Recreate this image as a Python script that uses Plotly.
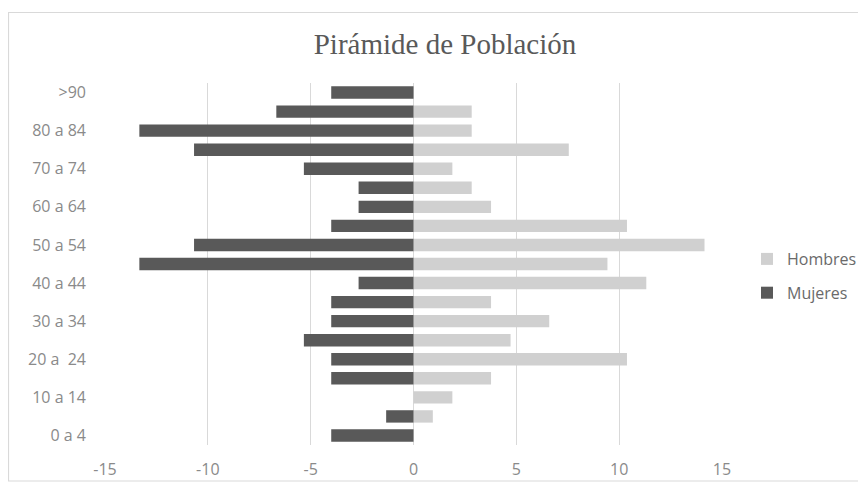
import plotly.graph_objects as go

categories = ["0 a 4", "5 a 9", "10 a 14", "15 a 19", "20 a  24", "25 a 29", "30 a 34",
              "35 a 39", "40 a 44", "45 a 49", "50 a 54", "55 a 59", "60 a 64", "65 a 69",
              "70 a 74", "75 a 79", "80 a 84", "85 a 89", ">90"]
hombres = [0, 0.94, 1.89, 3.77, 10.38, 4.72, 6.60, 3.77, 11.32, 9.43, 14.15, 10.38,
           3.77, 2.83, 1.89, 7.55, 2.83, 2.83, 0]
mujeres = [-4.0, -1.33, 0, -4.0, -4.0, -5.33, -4.0, -4.0, -2.67, -13.33, -10.67, -4.0,
           -2.67, -2.67, -5.33, -10.67, -13.33, -6.67, -4.0]
x_ticks = [-15, -10, -5, 0, 5, 10, 15]

tick_cats = categories[::2]
tick_text = [c.replace("  ", "\u00a0 ") for c in tick_cats]

fig = go.Figure()
fig.add_trace(go.Bar(y=categories, x=hombres, orientation="h", name="Hombres",
                     marker=dict(color="#d0d0d0", line=dict(width=0)), width=0.65,
                     legendgroup="h"))
fig.add_trace(go.Bar(y=categories, x=mujeres, orientation="h", name="Mujeres",
                     marker=dict(color="#595959", line=dict(width=0)), width=0.65,
                     legendgroup="m"))

# the page body has an 8px default margin; work in figure pixels = screen - 8
OFF = 8
W, H = 866 - OFF, 483 - OFF
L, T = 105 - OFF, 83 - OFF
R = W - (722 - OFF)
B = H - (445 - OFF)
pw, ph = W - L - R, H - T - B

def px_x(p):
    return (p - OFF - L) / pw

def px_y(p):
    return (H - B - (p - OFF)) / ph

fig.add_shape(type="rect", xref="paper", yref="paper",
              x0=px_x(8.5), x1=px_x(900), y0=px_y(481), y1=px_y(12.5),
              line=dict(color="#d9d9d9", width=1.2), fillcolor="rgba(0,0,0,0)", layer="below")

fig.update_layout(
    width=W, height=H,
    margin=dict(l=L, r=R, t=T, b=B, autoexpand=False),
    paper_bgcolor="white", plot_bgcolor="white",
    barmode="relative",
    title=dict(text="Pirámide de Población", xref="container", x=(445 - OFF) / W,
               xanchor="center", yref="container", y=1 - (44 - OFF) / H, yanchor="middle",
               font=dict(family="Liberation Serif", size=29, color="#595959")),
    xaxis=dict(range=[-15, 15], tickvals=x_ticks, ticktext=[str(v) for v in x_ticks],
               showgrid=True, gridcolor="#d9d9d9", gridwidth=1, zeroline=False,
               showline=False, ticks="", ticklabelstandoff=13,
               tickfont=dict(family="Open Sans", size=16, color="#8a8a8a")),
    yaxis=dict(type="category", categoryorder="array", categoryarray=categories,
               tickvals=tick_cats, ticktext=tick_text, showgrid=False, zeroline=False,
               showline=False, ticks="", ticklabelstandoff=18,
               tickfont=dict(family="Open Sans", size=16, color="#8a8a8a"),
               range=[-0.5, 18.5]),
    legend=dict(x=px_x(747), xanchor="left", y=px_y(242), yanchor="top",
                traceorder="grouped", tracegroupgap=10, itemwidth=30,
                font=dict(family="Open Sans", size=16, color="#6a6a6a"),
                bgcolor="rgba(0,0,0,0)"),
    bargap=0.35,
)

fig.write_html("out.html")
